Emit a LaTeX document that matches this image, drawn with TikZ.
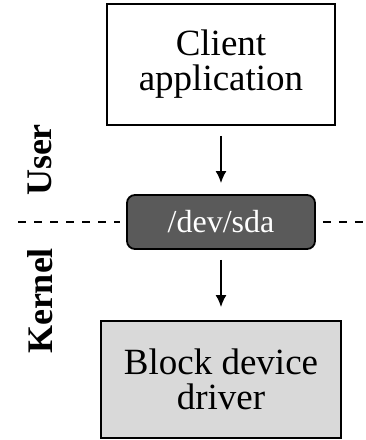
\documentclass[tikz,border=0pt]{standalone}
\usepackage{fontspec}
\setmainfont{Liberation Serif}
\usepackage{xcolor}
\usetikzlibrary{positioning, arrows.meta}
\definecolor{devGray}{RGB}{90,90,90}
\definecolor{drvGray}{RGB}{217,217,217}

\begin{document}
\begin{tikzpicture}[
  x=1pt, y=-1pt,
  box/.style={draw, line width=1.8pt, align=center, inner sep=0pt,
    font=\fontsize{37}{35}\selectfont},
  layer/.style={font=\fontsize{36}{36}\selectfont\bfseries, rotate=90},
  flow/.style={-{Latex[length=12pt,width=11pt]}, line width=1.8pt,
    shorten <=10pt, shorten >=11pt},
  split/.style={dashed, line width=1.8pt, dash pattern=on 8pt off 8pt},
]
  \useasboundingbox (0,0) rectangle (365,440);

  \node[box, minimum width=228pt, minimum height=121pt] (client) at (221, 64.5) {Client\\application};
  \node[box, fill=devGray, text=white, rounded corners=8pt, minimum width=188pt, minimum height=54pt,
    font=\fontsize{32}{32}\selectfont] (sda) at (221, 222) {/dev/sda};
  \node[box, fill=drvGray, minimum width=240pt, minimum height=117pt] (driver) at (221, 379.5) {Block device\\driver};

  \node[layer] (user) at (40, 160) {User};
  \node[layer] (kernel) at (40, 301) {Kernel};

  \coordinate (lineL) at (18, 222);
  \coordinate (lineR) at (365, 222);
  \draw[split] (lineL) -- ([xshift=-6pt]sda.west);
  \draw[split] ([xshift=7pt]sda.east) -- (lineR);

  \draw[flow] (client) -- (sda);
  \draw[flow, shorten >=13pt] (sda) -- (driver);
\end{tikzpicture}
\end{document}
